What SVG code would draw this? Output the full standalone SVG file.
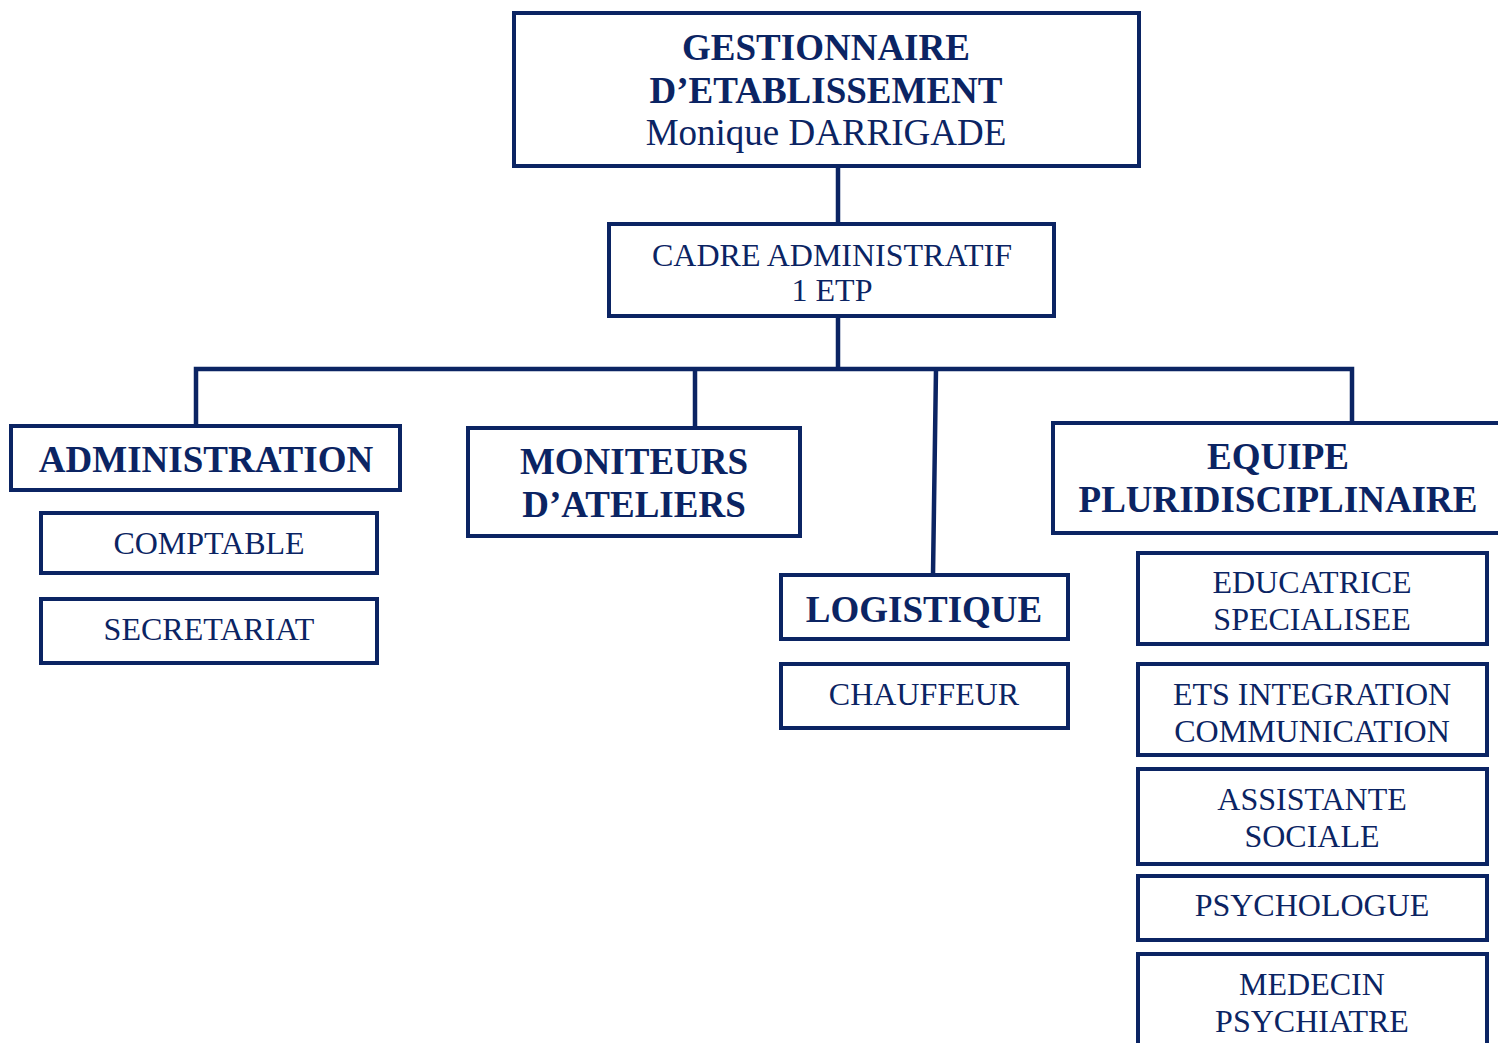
<svg xmlns="http://www.w3.org/2000/svg" width="1498" height="1043" viewBox="0 0 1498 1043">
<style>
.box{fill:#fff;stroke:#0b2463;stroke-width:4}
.ln{fill:none;stroke:#0b2463;stroke-width:4.5;stroke-linecap:square}
text{font-family:"Liberation Serif","Times New Roman",serif;fill:#0b2463;text-anchor:middle}
.b{font-weight:bold;font-size:37px}
.r{font-size:32px}
.s{font-size:32px}
</style>
<rect width="1498" height="1043" fill="#fff"/>
<g id="connectors">
<path class="ln" d="M838,167 V224 M838,316 V369 M196,369 H1352 M196,369 V426 M695,369 V428 M936,369 L933,575 M1352,369 V423"/>
</g>
<g id="gestionnaire"><rect class="box" x="514" y="13" width="625" height="153"/>
<text class="b" x="826" y="60" font-size="36">GESTIONNAIRE</text>
<text class="b" x="826" y="103">D’ETABLISSEMENT</text>
<text x="826" y="145" font-size="37">Monique DARRIGADE</text></g>
<g id="cadre"><rect class="box" x="609" y="224" width="445" height="92"/>
<text class="r" x="832" y="266">CADRE ADMINISTRATIF</text>
<text class="r" x="832" y="301">1 ETP</text></g>
<g id="administration"><rect class="box" x="11" y="426" width="389" height="64"/>
<text class="b" x="206" y="472">ADMINISTRATION</text></g>
<g id="comptable"><rect class="box" x="41" y="513" width="336" height="60"/>
<text class="r" x="209" y="554">COMPTABLE</text></g>
<g id="secretariat"><rect class="box" x="41" y="599" width="336" height="64"/>
<text class="r" x="209" y="640">SECRETARIAT</text></g>
<g id="moniteurs"><rect class="box" x="468" y="428" width="332" height="108"/>
<text class="b" x="634" y="474">MONITEURS</text>
<text class="b" x="634" y="517">D’ATELIERS</text></g>
<g id="logistique"><rect class="box" x="781" y="575" width="287" height="64"/>
<text class="b" x="924" y="622">LOGISTIQUE</text></g>
<g id="chauffeur"><rect class="box" x="781" y="664" width="287" height="64"/>
<text class="r" x="924" y="705">CHAUFFEUR</text></g>
<g id="equipe"><rect class="box" x="1053" y="423" width="460" height="110"/>
<text class="b" x="1278" y="469">EQUIPE</text>
<text class="b" x="1278" y="512">PLURIDISCIPLINAIRE</text></g>
<g id="educatrice"><rect class="box" x="1138" y="553" width="349" height="91"/>
<text class="s" x="1312" y="593">EDUCATRICE</text>
<text class="s" x="1312" y="630">SPECIALISEE</text></g>
<g id="ets"><rect class="box" x="1138" y="664" width="349" height="91"/>
<text class="s" x="1312" y="705">ETS INTEGRATION</text>
<text class="s" x="1312" y="742">COMMUNICATION</text></g>
<g id="assistante"><rect class="box" x="1138" y="769" width="349" height="95"/>
<text class="s" x="1312" y="810">ASSISTANTE</text>
<text class="s" x="1312" y="847">SOCIALE</text></g>
<g id="psychologue"><rect class="box" x="1138" y="876" width="349" height="64"/>
<text class="s" x="1312" y="916">PSYCHOLOGUE</text></g>
<g id="medecin"><rect class="box" x="1138" y="954" width="349" height="110"/>
<text class="s" x="1312" y="995">MEDECIN</text>
<text class="s" x="1312" y="1032">PSYCHIATRE</text></g>
</svg>
